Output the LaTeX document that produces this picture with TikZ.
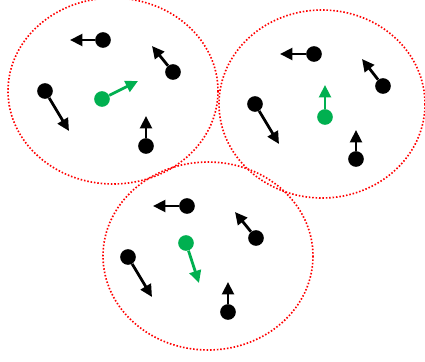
\documentclass[tikz,border=0pt]{standalone}
\usepackage{xcolor}
\usepackage{tikz}
\usetikzlibrary{arrows.meta}
\definecolor{dotred}{HTML}{FF0000}
\definecolor{leadgreen}{HTML}{00B050}

\begin{document}
\begin{tikzpicture}[x=0.03cm, y=-0.03cm,
    cluster/.style={draw=dotred, line width=1.4pt, dash pattern=on 1.3pt off 1.6pt},
    agent/.style={circle, fill=#1, inner sep=0pt, minimum size=0.47cm},
    move/.style={draw=#1, line width=2.4pt, -{Triangle[length=10.5pt, width=10pt]}},
]
    \useasboundingbox (0,0) rectangle (425,361);

    % Clusters
    \draw[cluster] (113,91) ellipse [x radius=105, y radius=93];
    \draw[cluster] (322,104) ellipse [x radius=103, y radius=94];
    \draw[cluster] (208,256) ellipse [x radius=105, y radius=94];

    % Cluster 1
    \node[agent=black] (a1) at (103,40) {};
    \node[agent=black] (b1) at (173,72) {};
    \node[agent=black] (c1) at (45,91) {};
    \node[agent=black] (d1) at (146,146) {};
    \node[agent=leadgreen] (g1) at (102,99) {};
    \coordinate (ta1) at (70,40);
    \coordinate (tb1) at (152,46);
    \coordinate (tc1) at (69,131);
    \coordinate (td1) at (146,116);
    \coordinate (tg1) at (138,81);
    \draw[move=black] (a1) -- (ta1);
    \draw[move=black] (b1) -- (tb1);
    \draw[move=black] (c1) -- (tc1);
    \draw[move=black] (d1) -- (td1);
    \draw[move=leadgreen] (g1) -- (tg1);

    % Cluster 2
    \node[agent=black] (a2) at (314,54) {};
    \node[agent=black] (b2) at (383,86) {};
    \node[agent=black] (c2) at (255,104) {};
    \node[agent=black] (d2) at (356,159) {};
    \node[agent=leadgreen] (g2) at (325,117) {};
    \coordinate (ta2) at (280,54);
    \coordinate (tb2) at (362,59);
    \coordinate (tc2) at (279,144);
    \coordinate (td2) at (356,130);
    \coordinate (tg2) at (325,85);
    \draw[move=black] (a2) -- (ta2);
    \draw[move=black] (b2) -- (tb2);
    \draw[move=black] (c2) -- (tc2);
    \draw[move=black] (d2) -- (td2);
    \draw[move=leadgreen] (g2) -- (tg2);

    % Cluster 3
    \node[agent=black] (a3) at (187,206) {};
    \node[agent=black] (b3) at (256,238) {};
    \node[agent=black] (c3) at (128,257) {};
    \node[agent=black] (d3) at (228,312) {};
    \node[agent=leadgreen] (g3) at (186,243) {};
    \coordinate (ta3) at (153,206);
    \coordinate (tb3) at (235,212);
    \coordinate (tc3) at (152,297);
    \coordinate (td3) at (228,282);
    \coordinate (tg3) at (199,283);
    \draw[move=black] (a3) -- (ta3);
    \draw[move=black] (b3) -- (tb3);
    \draw[move=black] (c3) -- (tc3);
    \draw[move=black] (d3) -- (td3);
    \draw[move=leadgreen] (g3) -- (tg3);
\end{tikzpicture}
\end{document}
